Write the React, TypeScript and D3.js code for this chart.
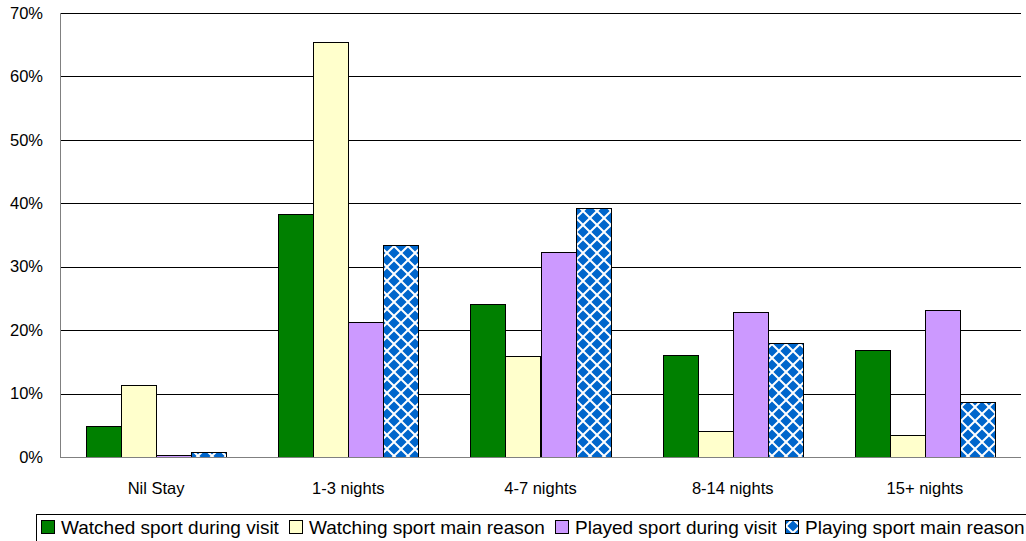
import React from "react";
import * as d3 from "d3";

const categories = ["Nil Stay", "1-3 nights", "4-7 nights", "8-14 nights", "15+ nights"];
const seriesNames = [
  "Watched sport during visit",
  "Watching sport main reason",
  "Played sport during visit",
  "Playing sport main reason",
];
const watchedDuring = [4.9, 38.3, 24.1, 16.1, 16.9];
const watchingMain = [11.3, 65.5, 15.9, 4.1, 3.5];
const playedDuring = [0.3, 21.3, 32.3, 22.9, 23.2];
const playingMain = [0.8, 33.4, 39.3, 18.0, 8.7];
const yTicks = [0, 10, 20, 30, 40, 50, 60, 70];

const seriesValues = [watchedDuring, watchingMain, playedDuring, playingMain];
const fills = ["#008000", "#FFFFCC", "#CC99FF", "url(#diamonds)"];

const W = 1026;
const H = 541;
const left = 60;
const right = 1021;
const top = 13;
const bottom = 457;
const font = "'Liberation Sans', Arial, sans-serif";

// rhombus centred on (cx, cy)
const diamond = (cx: number, cy: number, r: number) =>
  `M${cx} ${cy - r} L${cx + r} ${cy} L${cx} ${cy + r} L${cx - r} ${cy} Z`;

export default function App() {
  const x0 = d3.scaleBand<string>().domain(categories).range([left, right]).paddingInner(0.27).paddingOuter(0.135);
  const x1 = d3.scaleBand<number>().domain([0, 1, 2, 3]).range([0, x0.bandwidth()]);
  const y = d3.scaleLinear().domain([0, 70]).range([bottom, top]);

  const r = 5.6;
  const legendStarts = [41, 289, 555, 785];

  return (
    <svg width={W} height={H} style={{ position: "absolute", left: 0, top: 0, background: "#fff" }} fontFamily={font}>
      <defs>
        <pattern id="diamonds" width="14" height="14" patternUnits="userSpaceOnUse" x="2" y="1">
          <rect width="14" height="14" fill="#fff" />
          <path
            d={[diamond(7, 7, r), diamond(0, 0, r), diamond(14, 0, r), diamond(0, 14, r), diamond(14, 14, r)].join(" ")}
            fill="#0066CC"
          />
        </pattern>
      </defs>

      {yTicks.map((t) => (
        <g key={t}>
          {t > 0 && (
            <line x1={left} x2={right} y1={Math.round(y(t)) + 0.5} y2={Math.round(y(t)) + 0.5} stroke="#000" strokeWidth={1} />
          )}
          <text x={43} y={y(t)} dy="0.35em" textAnchor="end" fontSize={16.5} fill="#000">
            {t}%
          </text>
        </g>
      ))}

      {categories.map((c, ci) => (
        <g key={c}>
          {seriesValues.map((vals, si) => {
            const bx = Math.round((x0(c) ?? 0) + (x1(si) ?? 0)) + 0.5;
            const by = Math.round(y(vals[ci])) + 0.5;
            return (
              <rect
                key={si}
                x={bx}
                y={by}
                width={Math.round(x1.bandwidth())}
                height={Math.max(0, bottom + 0.5 - by)}
                fill={fills[si]}
                stroke="#000"
                strokeWidth={1}
              />
            );
          })}
          <text x={(x0(c) ?? 0) + x0.bandwidth() / 2} y={494} textAnchor="middle" fontSize={16.5} fill="#000">
            {c}
          </text>
        </g>
      ))}

      <line x1={left + 0.5} x2={left + 0.5} y1={top} y2={bottom} stroke="#808080" />
      <line x1={left} x2={right} y1={bottom + 0.5} y2={bottom + 0.5} stroke="#808080" />

      <rect x={36.5} y={514.5} width={1000} height={40} fill="#fff" stroke="#000" />
      {seriesNames.map((n, i) => (
        <g key={n}>
          <rect x={legendStarts[i] + 0.5} y={520.5} width={13} height={13} fill={fills[i]} stroke="#000" />
          <text x={legendStarts[i] + 20} y={534} fontSize={19} fill="#000">
            {n}
          </text>
        </g>
      ))}
    </svg>
  );
}
